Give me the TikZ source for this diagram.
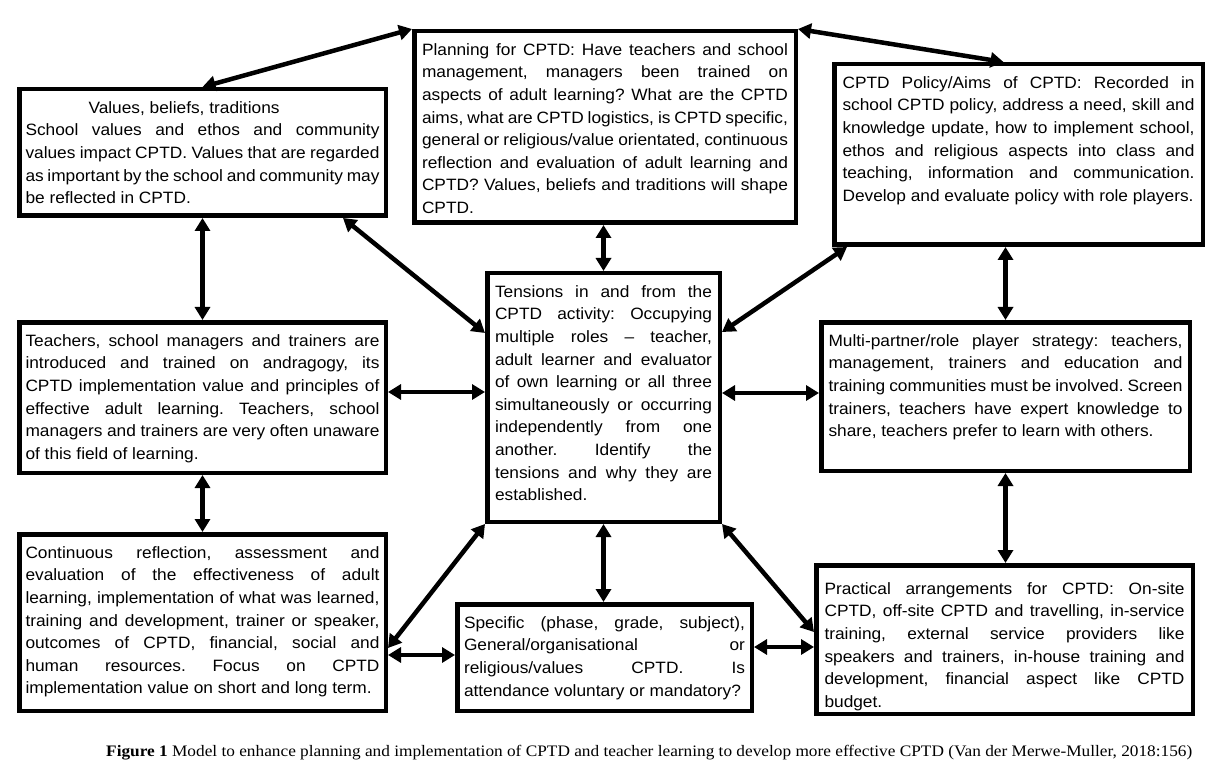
\documentclass[tikz,border=0pt]{standalone}
\usepackage{fontspec}
\usetikzlibrary{arrows.meta,calc}
\newfontfamily\boxfont[FakeStretch=1.055]{Liberation Sans}
\newfontfamily\capfont[FakeStretch=1.08]{Liberation Serif}
\newcommand\setpars{\frenchspacing\hyphenpenalty=10000 \exhyphenpenalty=10000 \tolerance=10000 \hbadness=10000 \pretolerance=-1 }
\tikzset{
  tbox/.style={draw, line width=4.5pt, outer sep=2.25pt, inner ysep=7pt, anchor=north west,
    fill=white, font=\boxfont\fontsize{16.4}{22.6}\selectfont},
  dbl/.style={line width=4.5pt, {Triangle[length=13pt,width=15pt]}-{Triangle[length=13pt,width=15pt]}},
}
% name, x1, y1, x2, y2, text width, first-line height, text
\newcommand\tbox[8]{%
  \node[tbox, inner xsep={(#4-#2-4.5-#6)/2}] (#1) at (#2,#3)
   {\parbox[t][\dimexpr #5pt-#3pt-18.5pt\relax][t]{#6pt}{\setpars\rule{0pt}{#7pt}#8}};}
\begin{document}
\begin{tikzpicture}[x=1pt,y=-1pt]
\useasboundingbox[fill=white] (0,0) rectangle (1217,775);

\tbox{V}{17}{87}{388}{218}{354}{17}{\hspace*{63pt}Values, beliefs, traditions\\School values and ethos and community\linebreak values impact CPTD. Values that are regarded\linebreak as important by the school and community may\linebreak be reflected in CPTD.}

\tbox{P}{412}{29}{798}{225}{366}{17}{Planning for CPTD: Have teachers and school\linebreak management, managers been trained on\linebreak aspects of adult learning? What are the CPTD\linebreak aims, what are CPTD logistics, is CPTD specific,\linebreak general or religious/value orientated, continuous\linebreak reflection and evaluation of adult learning and\linebreak CPTD? Values, beliefs and traditions will shape\linebreak CPTD.}

\tbox{Po}{832}{62}{1205}{247}{352}{17}{CPTD Policy/Aims of CPTD: Recorded in\linebreak school CPTD policy, address a need, skill and\linebreak knowledge update, how to implement school,\linebreak ethos and religious aspects into class and\linebreak teaching, information and communication.\linebreak Develop and evaluate policy with role players.}

\tbox{T}{17}{320}{388}{475}{354}{17}{Teachers, school managers and trainers are\linebreak introduced and trained on andragogy, its\linebreak CPTD implementation value and principles of\linebreak effective adult learning. Teachers, school\linebreak managers and trainers are very often unaware\linebreak of this field of learning.}

\tbox{Te}{485}{271}{722}{524}{217}{17}{Tensions in and from the\linebreak CPTD activity: Occupying\linebreak multiple roles – teacher,\linebreak adult learner and evaluator\linebreak of own learning or all three\linebreak simultaneously or occurring\linebreak independently from one\linebreak another. Identify the\linebreak tensions and why they are\linebreak established.}

\tbox{M}{819}{320}{1192}{473}{354}{17}{Multi-partner/role player strategy: teachers,\linebreak management, trainers and education and\linebreak training communities must be involved. Screen\linebreak trainers, teachers have expert knowledge to\linebreak share, teachers prefer to learn with others.}

\tbox{C}{17}{532}{388}{713}{354}{17}{Continuous reflection, assessment and\linebreak evaluation of the effectiveness of adult\linebreak learning, implementation of what was learned,\linebreak training and development, trainer or speaker,\linebreak outcomes of CPTD, financial, social and\linebreak human resources. Focus on CPTD\linebreak implementation value on short and long term.}

\tbox{S}{455}{602}{754}{713}{281}{17}{Specific (phase, grade, subject),\linebreak General/organisational or\linebreak religious/values CPTD. Is\linebreak attendance voluntary or mandatory?}

\tbox{Pr}{814}{563}{1195}{716}{360}{22}{Practical arrangements for CPTD: On-site\linebreak CPTD, off-site CPTD and travelling, in-service\linebreak training, external service providers like\linebreak speakers and trainers, in-house training and\linebreak development, financial aspect like CPTD\linebreak budget.}

% connectors
\draw[dbl] (V.north) -- (P.north west);
\draw[dbl] (P.north east) -- ($(Po.north)+(-15,0)$);
\draw[dbl] (V.south) -- (T.north);
\draw[dbl] (Te.north |- P.south) -- (Te.north);
\draw[dbl] (M.north |- Po.south) -- (M.north);
\draw[dbl] ($(V.south east)+(-45,0)$) -- ($(Te.north west)+(0,62)$);
\draw[dbl] ($(Po.south west)+(15,0)$) -- ($(Te.north east)+(0,61)$);
\draw[dbl] ($(T.east)+(0,-5.5)$) -- ($(Te.west)+(0,-5.5)$);
\draw[dbl] ($(Te.east)+(0,-4.5)$) -- ($(M.west)+(0,-3.5)$);
\draw[dbl] (T.south) -- (C.north);
\draw[dbl] (M.south) -- (M.south |- Pr.north);
\draw[dbl] (Te.south west) -- ($(C.east)+(0,25.5)$);
\draw[dbl] (Te.south) -- (Te.south |- S.north);
\draw[dbl] (Te.south east) -- ($(Pr.west)+(0,-7.5)$);
\draw[dbl] ($(C.east)+(0,32.5)$) -- ($(S.west)+(0,-2.5)$);
\draw[dbl] ($(S.east)+(0,-10.5)$) -- ($(Pr.west)+(0,7.5)$);

\node[anchor=base west, inner sep=0pt, font=\capfont\fontsize{16}{19}\selectfont] (cap) at (106,756)
  {\textbf{Figure 1} Model to enhance planning and implementation of CPTD and teacher learning to develop more effective CPTD (Van der Merwe-Muller, 2018:156)};
\end{tikzpicture}
\end{document}
